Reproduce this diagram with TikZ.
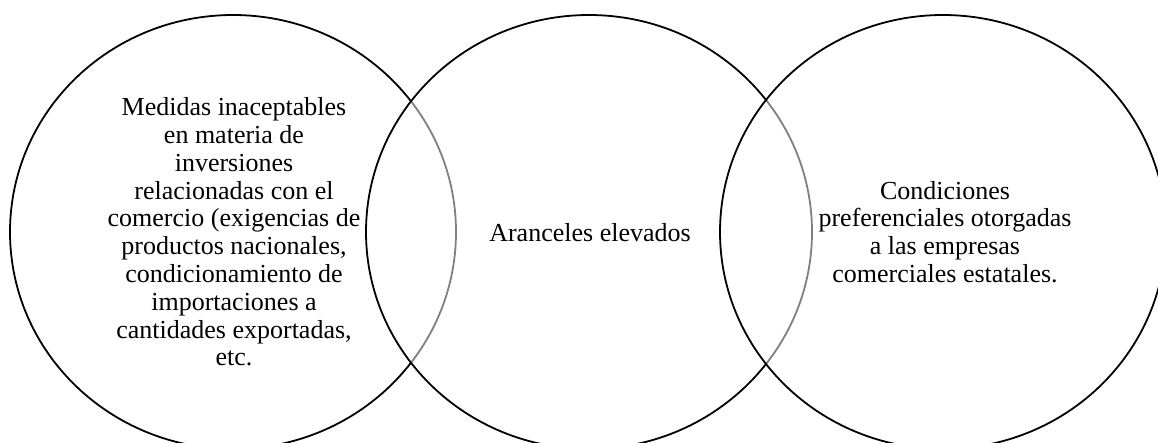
\documentclass[tikz,border=0pt]{standalone}
\usepackage{fontspec}
\setmainfont{Liberation Serif}
\usetikzlibrary{shapes.geometric}
\tikzset{
  venn/.style={ellipse, draw=black, line width=1.8pt, minimum width=446pt, minimum height=434pt, inner sep=0pt},
  veil/.style={venn, fill=white, fill opacity=0.5},
  label/.style={align=center, font=\fontsize{26}{27.8}\selectfont, inner sep=0pt}
}
\begin{document}
\begin{tikzpicture}[x=1pt, y=-1pt]
\useasboundingbox (0,0) rectangle (1158,443);
\fill[white] (0,0) rectangle (1158,443);
\begin{scope}
\clip (0,0) rectangle (1158,443);
\node[venn] (c1) at (233,232) {};
\node[veil] (c2) at (589,232) {};
\node[veil] (c3) at (943,232) {};
\end{scope}
\node[label] (t1) at (234,232) {Medidas inaceptables\\en materia de\\inversiones\\relacionadas con el\\comercio (exigencias de\\productos nacionales,\\condicionamiento de\\importaciones a\\cantidades exportadas,\\etc.};
\node[label] (t2) at (590,233) {Aranceles elevados};
\node[label] (t3) at (945,232) {Condiciones\\preferenciales otorgadas\\a las empresas\\comerciales estatales.};
\end{tikzpicture}
\end{document}
